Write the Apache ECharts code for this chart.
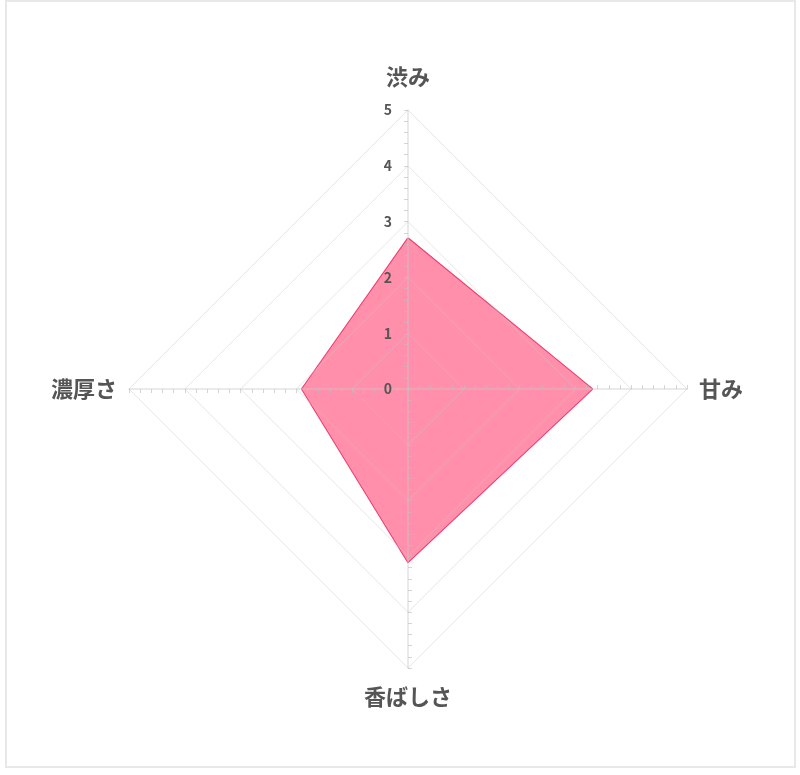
<!DOCTYPE html>
<html lang="ja">
<head>
<meta charset="UTF-8">
<title>レーダーチャート</title>
<script src="https://cdn.jsdelivr.net/npm/echarts@6/dist/echarts.min.js"></script>
<style>
  html, body { margin: 0; padding: 0; background: #fff; }
  #chart { width: 800px; height: 775px; }
  .frame {
    position: absolute; left: 5px; top: 0; width: 787px; height: 764px;
    border: 2px solid #e8e8e8; pointer-events: none;
  }
</style>
</head>
<body>
<div id="chart"></div>
<div class="frame"></div>
<script>
// 軸名（上から時計回り）
const axisNames = ['渋み', '甘み', '香ばしさ', '濃厚さ'];
const axisMax = 5;
// 値（軸名と同じ順）
const tasteValues = [2.7, 3.3, 3.1, 1.9];

// ECharts のレーダーは反時計回りなので、先頭以外を逆順にする
const order = [0, 3, 2, 1];
const names = order.map(i => axisNames[i]);
const values = order.map(i => tasteValues[i]);

const chart = echarts.init(document.getElementById('chart'));

const center = ['51%', '50.2%'];
const radius = 279;
const textFont = '"Noto Sans CJK JP", "Noto Sans", sans-serif';

const option = {
  animation: false,
  radar: [
    {
      // メインの目盛り・グリッド（塗りの上に重ねる）
      z: 5,
      center: center,
      radius: radius,
      startAngle: 90,
      shape: 'polygon',
      splitNumber: 5,
      indicator: names.map((name, i) => ({
        name: name,
        max: axisMax,
        min: 0,
        axisLabel: { show: i === 0 }
      })),
      axisName: {
        color: '#555',
        fontSize: 22,
        fontWeight: 'bold',
        fontFamily: textFont,
        padding: [6, 0, 10, 0]
      },
      nameGap: 12,
      axisLine: { lineStyle: { color: 'rgba(200,200,200,0.5)', width: 1.5 } },
      splitLine: { lineStyle: { color: 'rgba(200,200,200,0.45)', width: 1 } },
      splitArea: { show: false },
      axisTick: { show: false },
      axisLabel: {
        show: false,
        color: '#555',
        fontSize: 14,
        fontWeight: 'bold',
        fontFamily: textFont,
        margin: 16
      }
    },
    {
      // 細かい目盛り（0.2刻み）
      z: 5,
      center: center,
      radius: radius,
      startAngle: 90,
      shape: 'polygon',
      splitNumber: 25,
      indicator: names.map(() => ({ name: '', max: axisMax, min: 0 })),
      axisName: { show: false },
      axisLine: { show: false },
      splitLine: { show: false },
      splitArea: { show: false },
      axisLabel: { show: false },
      axisTick: { show: true, length: 4, lineStyle: { color: 'rgba(190,190,190,0.65)', width: 1 } }
    }
  ],
  series: [
    {
      type: 'radar',
      radarIndex: 0,
      z: 2,
      symbol: 'none',
      lineStyle: { color: '#f0396d', width: 2 },
      areaStyle: { color: '#ff8fab', opacity: 1 },
      data: [{ value: values, name: '味' }]
    }
  ]
};

chart.setOption(option);
</script>
</body>
</html>
